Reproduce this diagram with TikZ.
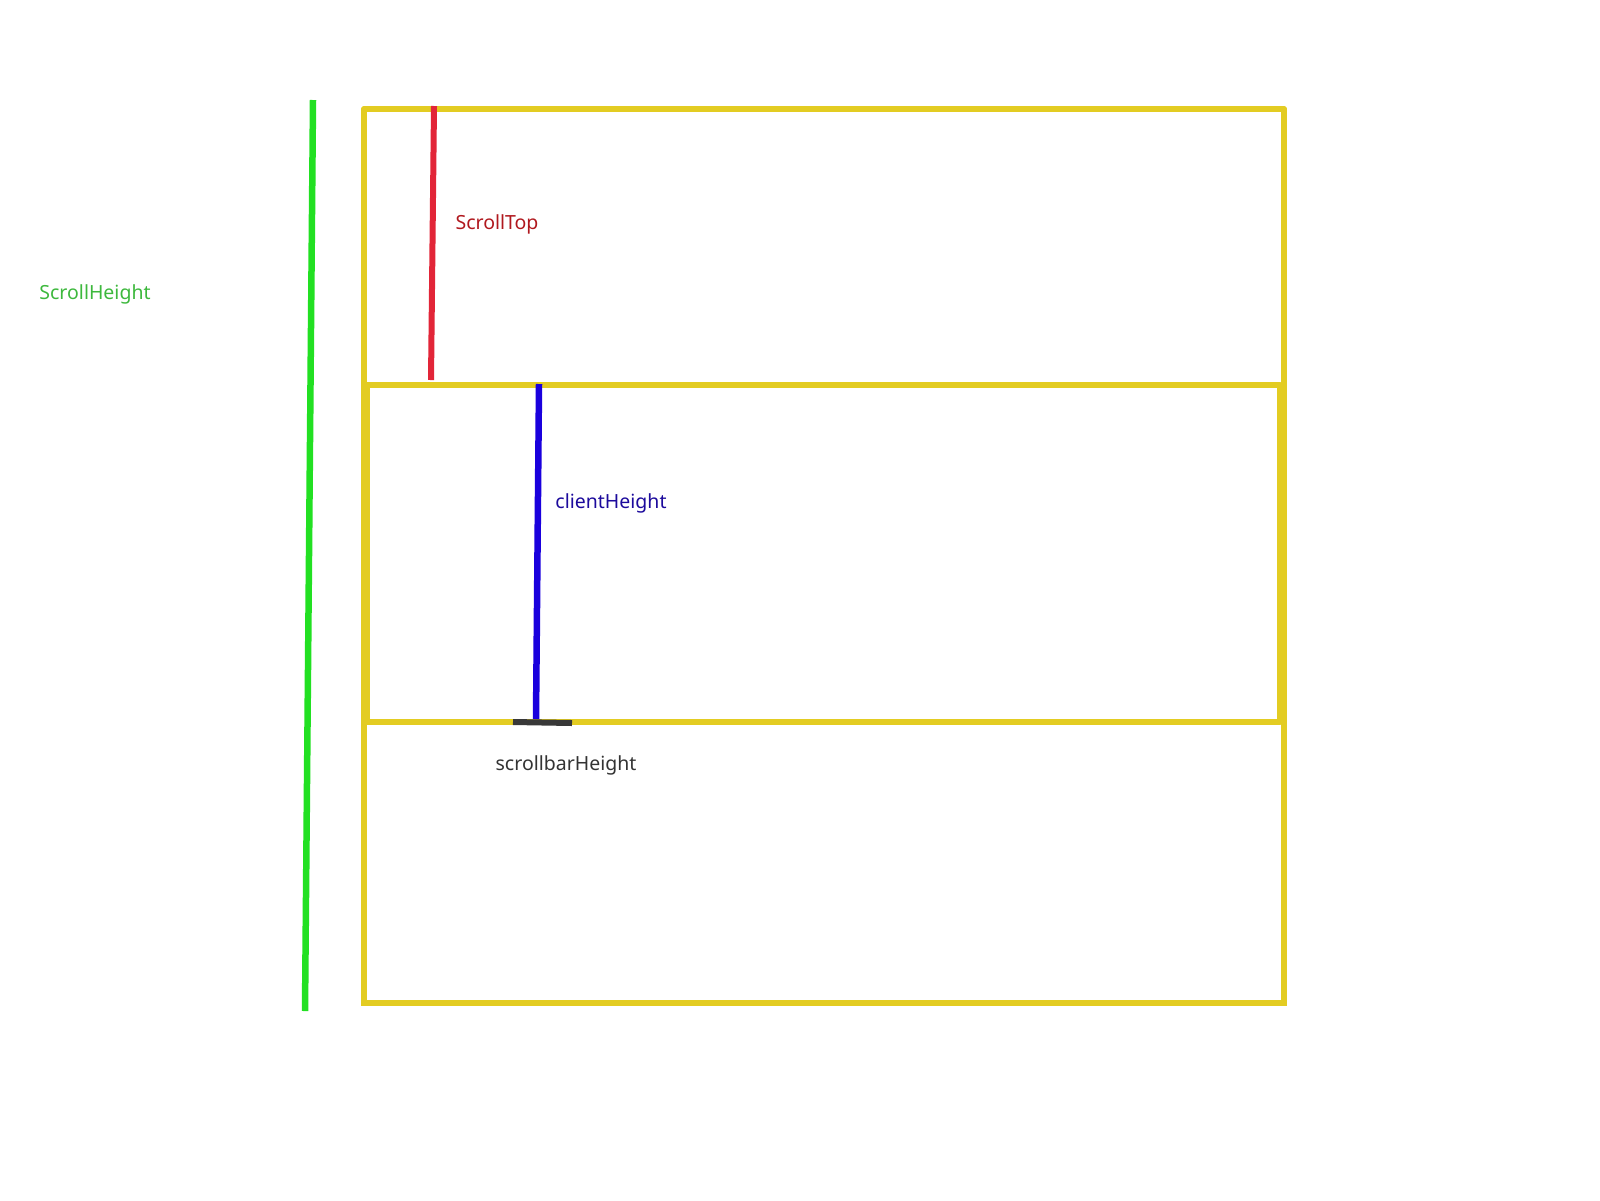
\documentclass[tikz,border=0pt]{standalone}
\usepackage{fontspec}
\setmainfont{Noto Sans}
\definecolor{ybox}{HTML}{E3CC22}
\definecolor{gline}{HTML}{22E022}
\definecolor{rline}{HTML}{E22538}
\definecolor{bline}{HTML}{1A00DD}
\definecolor{dline}{HTML}{383838}
\definecolor{gtext}{HTML}{3DB83D}
\definecolor{rtext}{HTML}{B0181E}
\definecolor{btext}{HTML}{1C0A9C}
\definecolor{dtext}{HTML}{333333}
\tikzset{
  boxline/.style={draw=ybox, line width=5.5pt, line cap=round},
  sideline/.style={draw=ybox, line width=7pt},
  lbl/.style={font=\fontsize{19.5}{23}\selectfont, inner sep=0pt}
}
\begin{document}
\begin{tikzpicture}[x=1pt,y=-1pt]
\useasboundingbox (0,0) rectangle (1600,1200);
% outer box
\draw[boxline] (364,109) -- (1284,109);
\draw[boxline] (364,109) -- (364,1003) -- (1284,1003) -- (1284,109);
% middle box
\draw[boxline] (366,385) -- (1280,385);
\draw[boxline] (366,722) -- (1280,722);
\draw[sideline] (366,385) -- (366,722);
\draw[sideline] (1280,385) -- (1280,722);
% green scroll height
\draw[draw=gline, line width=6.5pt] (313,100) -- (305,1011);
% red scroll top
\draw[draw=rline, line width=6pt] (434,106) -- (431,380);
% blue client height
\draw[draw=bline, line width=6.5pt] (539,384) -- (536,719);
% scrollbar
\draw[draw=dline, line width=6pt] (513,722) -- (572,723);
% labels
\node[lbl, text=gtext] (sh) at (95,294) {ScrollHeight};
\node[lbl, text=rtext] (st) at (497,224) {ScrollTop};
\node[lbl, text=btext] (ch) at (611,503.5) {clientHeight};
\node[lbl, text=dtext] (sb) at (566,765.5) {scrollbarHeight};
\end{tikzpicture}
\end{document}
